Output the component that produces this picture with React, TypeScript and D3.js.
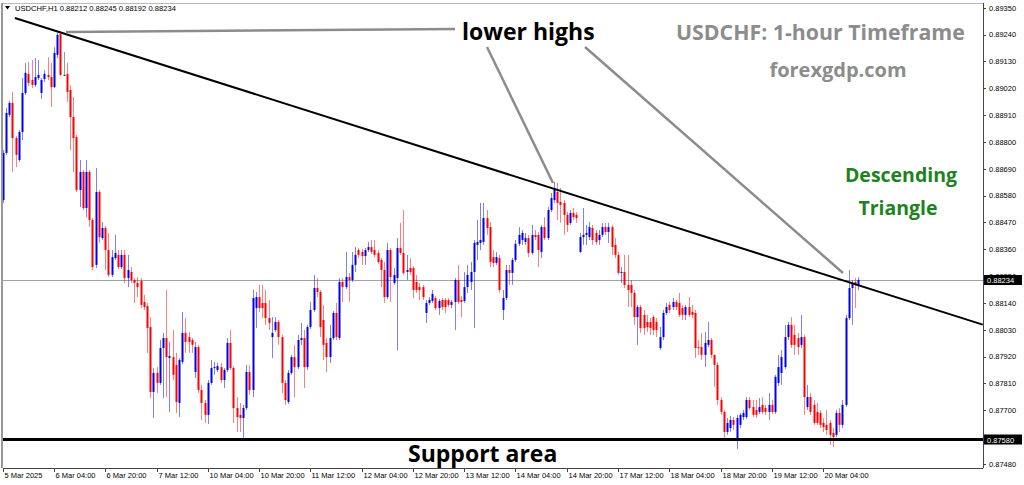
import React from "react";
import * as d3 from "d3";

// USDCHF H1 candles, 5 Mar 2025 12:00 .. 20 Mar 2025 15:00
const open = [0.88562,0.88755,0.88911,0.88960,0.88816,0.88726,0.88841,0.89001,0.89079,0.89054,0.89034,0.89062,0.89001,0.89058,0.89075,0.89066,0.89025,0.89157,0.89243,0.89075,0.89079,0.89013,0.88902,0.88820,0.88603,0.88677,0.88529,0.88677,0.88480,0.88296,0.88595,0.88406,0.88447,0.88357,0.88255,0.88324,0.88337,0.88287,0.88337,0.88242,0.88267,0.88234,0.88222,0.88230,0.88144,0.88127,0.88041,0.87775,0.87853,0.87812,0.87955,0.87996,0.87914,0.87918,0.87886,0.87730,0.87898,0.88017,0.88000,0.87988,0.87857,0.87959,0.87783,0.87730,0.87681,0.87812,0.87873,0.87865,0.87877,0.87824,0.87865,0.87976,0.87873,0.87709,0.87681,0.87668,0.87709,0.87857,0.87783,0.88119,0.88164,0.88140,0.88140,0.88078,0.88000,0.88029,0.88062,0.88000,0.87812,0.87734,0.87853,0.87918,0.87877,0.87988,0.87996,0.87877,0.88041,0.88111,0.88201,0.88185,0.88070,0.87976,0.87918,0.87996,0.88099,0.87996,0.88226,0.88205,0.88246,0.88234,0.88296,0.88357,0.88349,0.88332,0.88357,0.88369,0.88357,0.88345,0.88316,0.88275,0.88164,0.88357,0.88222,0.88242,0.88365,0.88345,0.88267,0.88283,0.88283,0.88226,0.88205,0.88205,0.88099,0.88140,0.88148,0.88160,0.88119,0.88152,0.88152,0.88152,0.88132,0.88144,0.88234,0.88152,0.88148,0.88205,0.88226,0.88267,0.88378,0.88386,0.88390,0.88488,0.88451,0.88328,0.88304,0.88324,0.88111,0.88160,0.88275,0.88263,0.88316,0.88382,0.88398,0.88390,0.88406,0.88345,0.88419,0.88419,0.88349,0.88451,0.88406,0.88521,0.88562,0.88595,0.88554,0.88550,0.88501,0.88468,0.88509,0.88501,0.88349,0.88410,0.88419,0.88410,0.88447,0.88427,0.88398,0.88419,0.88451,0.88431,0.88451,0.88378,0.88337,0.88263,0.88267,0.88214,0.88214,0.88181,0.88082,0.88123,0.88091,0.88062,0.88062,0.88082,0.88062,0.87955,0.88000,0.88099,0.88132,0.88123,0.88144,0.88140,0.88119,0.88091,0.88123,0.88103,0.88099,0.87959,0.87959,0.87927,0.87968,0.87988,0.87927,0.87886,0.87742,0.87693,0.87611,0.87627,0.87660,0.87586,0.87640,0.87672,0.87672,0.87742,0.87713,0.87701,0.87693,0.87722,0.87709,0.87693,0.87722,0.87693,0.87812,0.87853,0.87877,0.88000,0.88050,0.88009,0.87996,0.87968,0.88000,0.87713,0.87754,0.87722,0.87693,0.87689,0.87648,0.87640,0.87648,0.87607,0.87599,0.87689,0.87640,0.87722,0.88078,0.88201,0.88226,0.88212];
const high = [0.88767,0.88939,0.88968,0.89005,0.88824,0.88849,0.89062,0.89124,0.89128,0.89136,0.89144,0.89136,0.89062,0.89095,0.89148,0.89124,0.89189,0.89247,0.89255,0.89169,0.89124,0.89034,0.88984,0.88829,0.88726,0.88685,0.88726,0.88685,0.88488,0.88693,0.88603,0.88472,0.88455,0.88427,0.88357,0.88419,0.88357,0.88357,0.88357,0.88337,0.88287,0.88242,0.88246,0.88242,0.88173,0.88140,0.88082,0.87873,0.87877,0.87988,0.88017,0.88193,0.87980,0.88029,0.87935,0.87914,0.88103,0.88078,0.88021,0.87996,0.87980,0.87968,0.87804,0.87742,0.87824,0.87906,0.87898,0.87894,0.87894,0.87873,0.87996,0.88029,0.87881,0.87754,0.87730,0.87722,0.87886,0.87886,0.88193,0.88185,0.88214,0.88214,0.88193,0.88152,0.88082,0.88082,0.88070,0.88009,0.87824,0.87865,0.87927,0.87968,0.88009,0.88058,0.88029,0.88050,0.88144,0.88255,0.88242,0.88193,0.88132,0.87996,0.88050,0.88107,0.88140,0.88242,0.88242,0.88349,0.88263,0.88349,0.88369,0.88365,0.88361,0.88365,0.88390,0.88398,0.88398,0.88357,0.88324,0.88308,0.88386,0.88365,0.88283,0.88406,0.88468,0.88521,0.88337,0.88324,0.88291,0.88255,0.88222,0.88214,0.88152,0.88164,0.88193,0.88168,0.88156,0.88160,0.88160,0.88160,0.88152,0.88242,0.88296,0.88168,0.88267,0.88296,0.88308,0.88398,0.88480,0.88550,0.88550,0.88521,0.88472,0.88357,0.88349,0.88337,0.88193,0.88296,0.88296,0.88324,0.88398,0.88451,0.88439,0.88427,0.88418,0.88460,0.88439,0.88431,0.88459,0.88492,0.88533,0.88591,0.88636,0.88632,0.88611,0.88562,0.88513,0.88521,0.88529,0.88513,0.88427,0.88529,0.88460,0.88472,0.88460,0.88439,0.88439,0.88468,0.88468,0.88468,0.88460,0.88406,0.88349,0.88287,0.88337,0.88337,0.88234,0.88193,0.88132,0.88132,0.88111,0.88091,0.88078,0.88091,0.88078,0.88041,0.88111,0.88140,0.88144,0.88160,0.88152,0.88181,0.88132,0.88132,0.88164,0.88132,0.88111,0.87988,0.88017,0.88021,0.88062,0.87996,0.87927,0.87898,0.87754,0.87701,0.87668,0.87676,0.87672,0.87681,0.87689,0.87701,0.87754,0.87754,0.87742,0.87742,0.87750,0.87754,0.87722,0.87771,0.87742,0.87845,0.87927,0.87947,0.88050,0.88062,0.88082,0.88050,0.88017,0.88091,0.88009,0.87804,0.87771,0.87742,0.87730,0.87701,0.87668,0.87701,0.87660,0.87627,0.87701,0.87709,0.87742,0.88091,0.88275,0.88234,0.88242,0.88245];
const low = [0.88550,0.88747,0.88902,0.88677,0.88697,0.88718,0.88808,0.88993,0.89029,0.89021,0.89025,0.89054,0.88976,0.89046,0.89054,0.88943,0.89021,0.89144,0.89070,0.89070,0.88964,0.88767,0.88677,0.88595,0.88533,0.88521,0.88492,0.88451,0.88275,0.88283,0.88386,0.88398,0.88275,0.88246,0.88246,0.88316,0.88279,0.88279,0.88222,0.88205,0.88222,0.88140,0.88164,0.88119,0.88111,0.87935,0.87750,0.87668,0.87771,0.87804,0.87750,0.87754,0.87693,0.87824,0.87689,0.87672,0.87890,0.87935,0.87935,0.87935,0.87832,0.87771,0.87660,0.87648,0.87644,0.87804,0.87845,0.87857,0.87812,0.87791,0.87857,0.87865,0.87648,0.87611,0.87611,0.87582,0.87701,0.87763,0.87754,0.88037,0.88103,0.88078,0.88050,0.88029,0.87914,0.88021,0.87968,0.87771,0.87722,0.87726,0.87845,0.87754,0.87869,0.87968,0.87791,0.87865,0.88033,0.88103,0.88164,0.88000,0.87906,0.87857,0.87894,0.87988,0.87988,0.87988,0.88144,0.88197,0.88144,0.88226,0.88267,0.88324,0.88296,0.88296,0.88349,0.88341,0.88328,0.88300,0.88205,0.88140,0.88156,0.88144,0.88214,0.87947,0.88337,0.88255,0.88234,0.88255,0.88160,0.88181,0.88152,0.88152,0.88058,0.88132,0.88140,0.88111,0.88091,0.88111,0.88099,0.88123,0.88119,0.88029,0.88136,0.88082,0.88140,0.88181,0.88193,0.88037,0.88316,0.88357,0.88378,0.88419,0.88287,0.88287,0.88296,0.88181,0.88070,0.88152,0.88214,0.88214,0.88308,0.88373,0.88378,0.88378,0.88328,0.88337,0.88398,0.88287,0.88324,0.88398,0.88398,0.88513,0.88550,0.88480,0.88468,0.88419,0.88431,0.88460,0.88480,0.88468,0.88345,0.88378,0.88378,0.88398,0.88378,0.88378,0.88378,0.88410,0.88419,0.88386,0.88337,0.88324,0.88255,0.88222,0.88201,0.88123,0.88123,0.88050,0.87968,0.88017,0.88009,0.88021,0.88009,0.88009,0.88000,0.87947,0.87988,0.88091,0.88099,0.88111,0.88111,0.88082,0.88070,0.88070,0.88082,0.88078,0.87914,0.87927,0.87906,0.87877,0.87959,0.87914,0.87796,0.87722,0.87681,0.87586,0.87599,0.87611,0.87619,0.87541,0.87627,0.87660,0.87664,0.87701,0.87672,0.87668,0.87685,0.87685,0.87681,0.87660,0.87685,0.87685,0.87800,0.87804,0.87869,0.87988,0.87955,0.87927,0.87927,0.87955,0.87681,0.87701,0.87681,0.87640,0.87640,0.87627,0.87611,0.87599,0.87558,0.87549,0.87590,0.87611,0.87627,0.87713,0.88070,0.88050,0.88119,0.88192];
const close = [0.88755,0.88919,0.88960,0.88816,0.88747,0.88841,0.89001,0.89083,0.89042,0.89034,0.89066,0.89075,0.89054,0.89079,0.89066,0.89025,0.89165,0.89239,0.89075,0.89075,0.89005,0.88902,0.88816,0.88603,0.88677,0.88529,0.88677,0.88480,0.88287,0.88595,0.88410,0.88447,0.88357,0.88255,0.88328,0.88345,0.88287,0.88337,0.88242,0.88275,0.88234,0.88222,0.88205,0.88132,0.88123,0.88037,0.87775,0.87853,0.87812,0.87955,0.87996,0.87918,0.87922,0.87845,0.87734,0.87906,0.88017,0.87980,0.87980,0.87968,0.87959,0.87783,0.87730,0.87681,0.87812,0.87873,0.87877,0.87881,0.87824,0.87865,0.87976,0.87873,0.87709,0.87672,0.87668,0.87709,0.87857,0.87783,0.88160,0.88164,0.88119,0.88119,0.88078,0.88058,0.88017,0.88062,0.88000,0.87812,0.87742,0.87853,0.87918,0.87877,0.87988,0.87996,0.87877,0.88041,0.88111,0.88201,0.88185,0.88041,0.87968,0.87918,0.87996,0.88099,0.88000,0.88226,0.88205,0.88246,0.88234,0.88296,0.88337,0.88337,0.88332,0.88357,0.88369,0.88349,0.88337,0.88308,0.88275,0.88164,0.88357,0.88246,0.88255,0.88365,0.88345,0.88263,0.88275,0.88267,0.88193,0.88193,0.88193,0.88164,0.88140,0.88152,0.88177,0.88119,0.88148,0.88123,0.88123,0.88132,0.88144,0.88234,0.88144,0.88144,0.88205,0.88255,0.88267,0.88386,0.88390,0.88398,0.88488,0.88447,0.88308,0.88304,0.88328,0.88193,0.88160,0.88275,0.88263,0.88316,0.88382,0.88419,0.88427,0.88406,0.88345,0.88419,0.88410,0.88357,0.88451,0.88406,0.88521,0.88570,0.88611,0.88550,0.88542,0.88501,0.88460,0.88509,0.88492,0.88488,0.88410,0.88419,0.88427,0.88451,0.88398,0.88390,0.88419,0.88451,0.88431,0.88451,0.88369,0.88337,0.88263,0.88267,0.88214,0.88193,0.88181,0.88082,0.88123,0.88037,0.88037,0.88041,0.88037,0.88029,0.88029,0.88000,0.88099,0.88123,0.88111,0.88144,0.88123,0.88091,0.88091,0.88123,0.88091,0.88091,0.87955,0.87955,0.87927,0.87976,0.87988,0.87927,0.87886,0.87742,0.87693,0.87611,0.87648,0.87660,0.87640,0.87668,0.87681,0.87689,0.87742,0.87709,0.87681,0.87681,0.87713,0.87693,0.87693,0.87722,0.87693,0.87837,0.87877,0.87918,0.88000,0.88050,0.87968,0.87968,0.87959,0.88000,0.87754,0.87754,0.87693,0.87648,0.87648,0.87640,0.87631,0.87619,0.87599,0.87590,0.87689,0.87640,0.87722,0.88078,0.88201,0.88222,0.88214,0.88234];

const timeLabels = ["5 Mar 2025","6 Mar 04:00","6 Mar 20:00","7 Mar 12:00","10 Mar 04:00","10 Mar 20:00","11 Mar 12:00","12 Mar 04:00","12 Mar 20:00","13 Mar 12:00","14 Mar 04:00","14 Mar 20:00","17 Mar 12:00","18 Mar 04:00","18 Mar 20:00","19 Mar 12:00","20 Mar 04:00"];
const barsPerLabel = 16;
// right-axis grid prices (0.87590 sits under the support price box and is not shown)
const priceTicks = [0.8935,0.8924,0.8913,0.8902,0.8891,0.888,0.8869,0.8858,0.8847,0.8836,0.8825,0.8814,0.8803,0.8792,0.8781,0.877,0.8748];
const lastPrice = 0.88234;
const supportPrice = 0.8758;
// descending trendline anchors: [bar index, price]
const trendline = [[3.8, 0.89308],[305.8, 0.88051]];

const W = 1024, H = 485;
const PL = 3, PR = 983, PT = 3, PB = 468;

export default function App() {
  const n = close.length;
  const x = d3.scaleLinear().domain([0, n - 1]).range([2.7, 858.4]);
  const y = d3.scaleLinear().domain([0.8748, 0.8935]).range([463.9, 7.8]);
  const fmt = d3.format(".5f");
  const axisFont = "'Liberation Sans', Arial, sans-serif";
  const bold = "'Open Sans', 'DejaVu Sans', sans-serif";
  const candles = d3.range(n).map((i) => {
    const o = open[i], c = close[i];
    const up = c > o, doji = c === o;
    const col = doji ? "#333" : up ? "#0000f0" : "#ff0000";
    const xc = Math.round(x(i));
    const yTop = y(Math.max(o, c)), yBot = y(Math.min(o, c));
    const hh = Math.max(high[i], o, c), ll = Math.min(low[i], o, c);
    return (
      <g key={i}>
        <rect x={xc} y={y(hh)} width={1} height={Math.max(1, y(ll) - y(hh))} fill={col} opacity={0.5} />
        <rect x={xc - 0.5} y={yTop} width={2} height={Math.max(1, yBot - yTop)} fill={col} />
      </g>
    );
  });
  const tl = d3.line<number[]>().x((d) => x(d[0])).y((d) => y(d[1]));
  const yLast = y(lastPrice);
  return (
    <svg width={W} height={H} style={{ position: "absolute", left: 0, top: 0, background: "#fff" }}>
      <defs>
        <clipPath id="plot"><rect x={PL} y={PT} width={PR - PL} height={PB - PT} /></clipPath>
        <clipPath id="peek"><rect x={984} y={0} width={40} height={yLast - 5} /></clipPath>
      </defs>
      <rect x={0} y={0} width={W} height={H} fill="#fff" />
      <g clipPath="url(#plot)">
        <line x1={PL} x2={PR} y1={Math.round(yLast) + 0.5} y2={Math.round(yLast) + 0.5} stroke="#9ba3ab" strokeWidth={1} />
        {candles}
        <path d={tl(trendline) || ""} stroke="#000" strokeWidth={2} fill="none" />
        <line x1={PL} x2={PR} y1={y(supportPrice)} y2={y(supportPrice)} stroke="#000" strokeWidth={3.2} />
        {/* pointer lines from "lower highs" */}
        <line x1={66} y1={32} x2={455} y2={29} stroke="#8c8c8c" strokeWidth={2.5} />
        <line x1={487} y1={47} x2={553} y2={183} stroke="#8c8c8c" strokeWidth={2.5} />
        <line x1={585} y1={47} x2={843} y2={273} stroke="#8c8c8c" strokeWidth={2.5} />
      </g>
      {/* frame */}
      <line x1={2} x2={2} y1={PT} y2={PB} stroke="#999" strokeWidth={2} />
      <line x1={PL} x2={PR} y1={PT + 0.5} y2={PT + 0.5} stroke="#bbb" strokeWidth={1} />
      <line x1={PL} x2={PR} y1={PB + 0.5} y2={PB + 0.5} stroke="#444" strokeWidth={1} />
      <line x1={PR + 0.5} x2={PR + 0.5} y1={PT} y2={PB} stroke="#444" strokeWidth={1} />
      {/* header */}
      <path d="M5,6 L10,6 L7.5,9.5 Z" fill="#000" />
      <text x={15} y={11} fontFamily={axisFont} fontSize={7.6} fill="#000">USDCHF,H1  0.88212 0.88245 0.88192 0.88234</text>
      {/* price axis */}
      {priceTicks.map((p) => {
        const hidden = Math.abs(y(p) - yLast) < 8;
        return (
          <g key={p}>
            <line x1={PR} x2={PR + 3} y1={Math.round(y(p)) + 0.5} y2={Math.round(y(p)) + 0.5} stroke="#444" />
            <text x={989} y={y(p) + 2.8} fontFamily={axisFont} fontSize={7.5} fill="#000" clipPath={hidden ? "url(#peek)" : undefined}>{fmt(p)}</text>
          </g>
        );
      })}
      {[lastPrice, supportPrice].map((p) => (
        <g key={"b" + p}>
          <rect x={984} y={y(p) - 5} width={38} height={10} fill="#000" />
          <text x={987} y={y(p) + 3} fontFamily={axisFont} fontSize={7.5} fill="#fff">{fmt(p)}</text>
        </g>
      ))}
      {/* time axis */}
      {timeLabels.map((t, k) => {
        const xx = Math.round(x(k * barsPerLabel)) + 0.5;
        return (
          <g key={t}>
            <line x1={xx} x2={xx} y1={PB} y2={PB + 4} stroke="#444" />
            <text x={xx + 1} y={478} fontFamily={axisFont} fontSize={7.5} fill="#000">{t}</text>
          </g>
        );
      })}
      {/* annotations */}
      <text x={462} y={40} fontFamily={bold} fontWeight={700} fontSize={23} fill="#000">lower highs</text>
      <text x={676} y={40} fontFamily={bold} fontWeight={700} fontSize={21.3} fill="#8c8c8c">USDCHF: 1-hour Timeframe</text>
      <text x={838} y={77} textAnchor="middle" fontFamily={bold} fontWeight={700} fontSize={20} fill="#8c8c8c">forexgdp.com</text>
      <text x={901} y={182} textAnchor="middle" fontFamily={bold} fontWeight={700} fontSize={19.5} fill="#1e821e">Descending</text>
      <text x={898} y={215} textAnchor="middle" fontFamily={bold} fontWeight={700} fontSize={19.5} fill="#1e821e">Triangle</text>
      <text x={408} y={462} fontFamily={bold} fontWeight={700} fontSize={23} fill="#000">Support area</text>
    </svg>
  );
}
